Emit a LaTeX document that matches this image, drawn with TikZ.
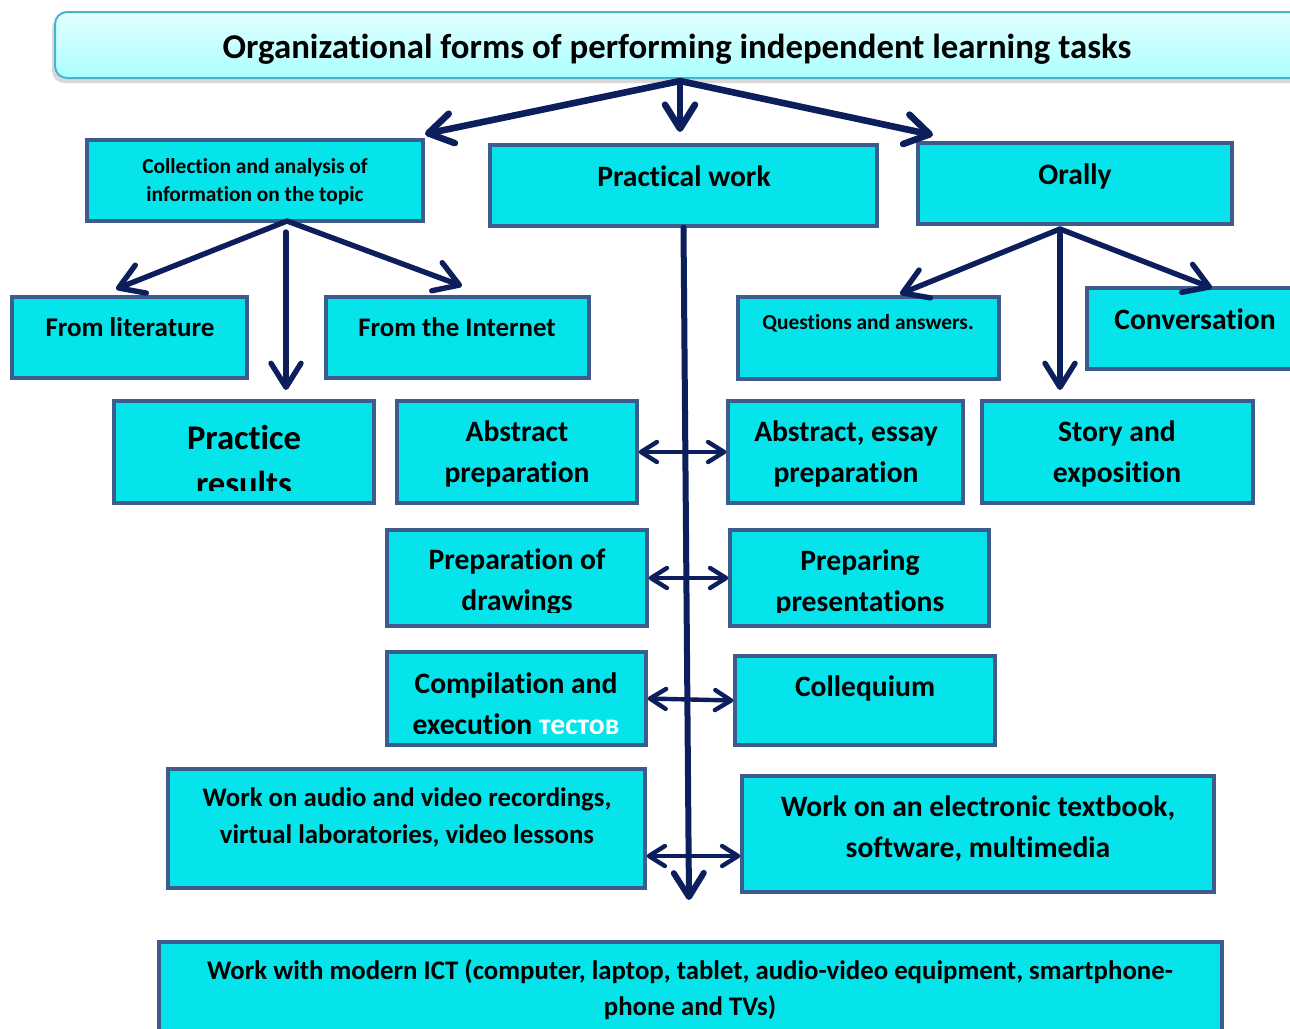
\documentclass[tikz,border=0pt]{standalone}
\usepackage{fontspec}
\setmainfont{Carlito}[Ligatures=NoCommon]
\usetikzlibrary{arrows.meta,shadows}

\definecolor{cellcyan}{HTML}{05E4EA}
\definecolor{celledge}{HTML}{3D5B8C}
\definecolor{navy}{HTML}{0C1F5C}
\definecolor{titleedge}{HTML}{4CB2CF}

\begin{document}
\begin{tikzpicture}[x=0.5pt, y=-0.5pt,
  cell/.style={draw=celledge, fill=cellcyan, line width=1.7pt, inner sep=0pt},
  lbl/.style={align=center, inner sep=0pt, font=\bfseries\fontsize{14.8}{20.5}\selectfont},
  link/.style={navy, line width=2.7pt, line cap=round,
    -{Straight Barb[round, length=12pt, width=15pt]}},
  twoway/.style={navy, line width=2.2pt,
    {Straight Barb[round, length=8pt, width=10pt]}-{Straight Barb[round, length=8pt, width=10pt]}}]
\useasboundingbox (0,0) rectangle (1290,1028);
\clip (0,0) rectangle (1290,1028);

% heading
\node[draw=titleedge, line width=1pt, rounded corners=6pt,
  top color=cyan!11, bottom color=cyan!33,
  drop shadow={shadow xshift=-1.5pt, shadow yshift=-2.5pt, opacity=0.3},
  minimum width=627.5pt, minimum height=33pt] (title) at (682.5,45) {};
\node[lbl, font=\bfseries\fontsize{17.4}{20}\selectfont] (title-t) at (677,49)
  {Organizational forms of performing independent learning tasks};

% first level
\node[cell, minimum width=168pt, minimum height=40.5pt] (coll) at (255,180.5) {};
\node[lbl, font=\bfseries\fontsize{10.7}{14}\selectfont] (coll-t) at (255,182)
  {Collection and analysis of\\information on the topic};
\node[cell, minimum width=193.5pt, minimum height=40.5pt] (prac) at (683.5,185.5) {};
\node[lbl] (prac-t) at (684,176) {Practical work};
\node[cell, minimum width=157pt, minimum height=40.5pt] (oral) at (1075,183.5) {};
\node[lbl] (oral-t) at (1075,176) {Orally};

% sources and oral forms
\node[cell, minimum width=117.5pt, minimum height=40.5pt] (lit) at (129.5,337.5) {};
\node[lbl, font=\bfseries\fontsize{13.5}{16}\selectfont] (lit-t) at (130,327) {From literature};
\node[cell, minimum width=131.5pt, minimum height=40.5pt] (inet) at (457.5,337.5) {};
\node[lbl, font=\bfseries\fontsize{13.4}{16}\selectfont] (inet-t) at (457,327) {From the Internet};
\node[cell, minimum width=130.5pt, minimum height=41pt] (qa) at (868.5,338) {};
\node[lbl, font=\bfseries\fontsize{10.7}{13}\selectfont] (qa-t) at (868,323) {Questions and answers.};
\node[cell, minimum width=106.5pt, minimum height=40.5pt] (conv) at (1193.5,328.5) {};
\node[lbl] (conv-t) at (1195,319) {Conversation};

% practical forms
\node[cell, minimum width=130pt, minimum height=51pt] (pres) at (244,452) {};
\begin{scope}
  \clip (114,401) rectangle (374,490);
  \node[lbl, font=\bfseries\fontsize{17.3}{23}\selectfont] (pres-t) at (244,460) {Practice\\results};
\end{scope}
\node[cell, minimum width=120pt, minimum height=51pt] (abst) at (517,452) {};
\node[lbl] (abst-t) at (517,453.5) {Abstract\\preparation};
\node[cell, minimum width=117.5pt, minimum height=51pt] (essay) at (845.5,452) {};
\node[lbl] (essay-t) at (846,453.5) {Abstract, essay\\preparation};
\node[cell, minimum width=135.5pt, minimum height=51pt] (story) at (1117.5,452) {};
\node[lbl] (story-t) at (1117,453.5) {Story and\\exposition};

\node[cell, minimum width=130pt, minimum height=48pt] (drw) at (517,578) {};
\node[cell, minimum width=129.5pt, minimum height=48pt] (ppt) at (859.5,578) {};
\begin{scope}
  \clip (380,530) rectangle (1000,612);
  \node[lbl] (drw-t) at (517,582.5) {Preparation of\\drawings};
  \node[lbl] (ppt-t) at (860,582.5) {Preparing\\presentations};
\end{scope}

\node[cell, minimum width=129.5pt, minimum height=46.5pt] (comp) at (516.5,698.5) {};
\begin{scope}
  \clip (387,652) rectangle (646,733);
  \node[lbl] (comp-t) at (516,704) {Compilation and\\execution {\color{white}тестов}};
\end{scope}
\node[cell, minimum width=130pt, minimum height=44.5pt] (colq) at (865,700.5) {};
\node[lbl] (colq-t) at (865,688) {Collequium};

\node[cell, minimum width=238.5pt, minimum height=59.5pt] (audio) at (406.5,828.5) {};
\node[lbl, font=\bfseries\fontsize{13.4}{18.5}\selectfont] (audio-t) at (407,817.5)
  {Work on audio and video recordings,\\virtual laboratories, video lessons};
\node[cell, minimum width=236pt, minimum height=58pt] (etext) at (978,834) {};
\node[lbl] (etext-t) at (978,828.5)
  {Work on an electronic textbook,\\software, multimedia};

\node[cell, minimum width=531.5pt, minimum height=49pt] (ict) at (690.5,991) {};
\node[lbl, font=\bfseries\fontsize{13.4}{18}\selectfont] (ict-t) at (690,990)
  {Work with modern ICT (computer, laptop, tablet, audio-video equipment, smartphone-\\phone and TVs)};

% arrow ends
\coordinate (title-fork) at (680,81);
\coordinate (coll-in) at (425,134);
\coordinate (prac-in) at (680,132);
\coordinate (oral-in) at (933,135);
\coordinate (coll-fork) at (287,221);
\coordinate (coll-drop) at (286,232);
\coordinate (lit-in) at (116,289);
\coordinate (pres-in) at (286,390);
\coordinate (inet-in) at (462,286);
\coordinate (oral-fork) at (1060,229);
\coordinate (oral-drop) at (1060,234);
\coordinate (qa-in) at (900,294);
\coordinate (story-in) at (1060,390);
\coordinate (conv-in) at (1212,288);
\coordinate (trunk-end) at (689,900);

% connectors
\draw[link, line width=3.3pt] (title-fork) -- (coll-in);
\draw[link, line width=3.3pt] (title-fork) -- (prac-in);
\draw[link, line width=3.3pt] (title-fork) -- (oral-in);
\draw[link] (coll-fork) -- (lit-in);
\draw[link] (coll-drop) -- (pres-in);
\draw[link] (coll-fork) -- (inet-in);
\draw[link] (oral-fork) -- (qa-in);
\draw[link] (oral-drop) -- (story-in);
\draw[link] (oral-fork) -- (conv-in);
\draw[link, line width=3pt] (prac.south) -- (trunk-end);
\draw[twoway] (abst.east) -- (essay.west);
\draw[twoway] (drw.east) -- (ppt.west);
\draw[twoway] (comp.east) -- (colq.west);
\draw[twoway] ([yshift=-13.75pt]audio.east) -- ([yshift=-11pt]etext.west);
\end{tikzpicture}
\end{document}
